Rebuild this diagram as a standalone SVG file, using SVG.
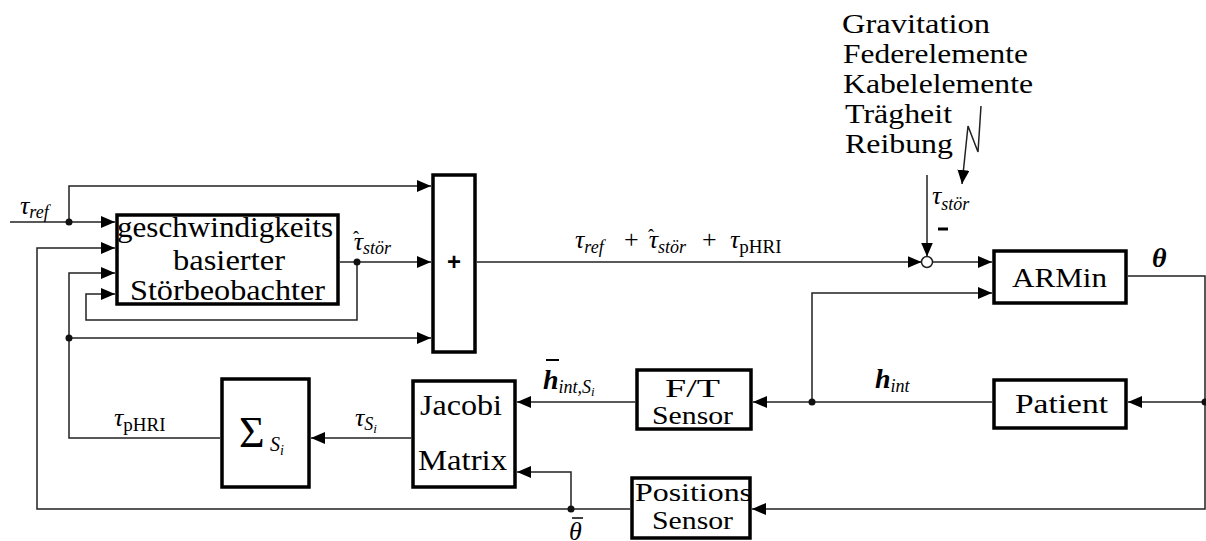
<svg xmlns="http://www.w3.org/2000/svg" width="1206" height="541" viewBox="0 0 1206 541">
<defs>
<style>
.box{fill:#fff;stroke:#000;stroke-width:3.5}
.ln{fill:none;stroke:#222;stroke-width:1.5}
.t{font-family:"Liberation Serif",serif;fill:#000}
.m{font-family:"Liberation Serif",serif;font-style:italic;fill:#000}
.b{font-family:"Liberation Serif",serif;font-style:italic;font-weight:bold;fill:#000}
.s{font-family:"Liberation Sans",sans-serif;font-weight:bold;fill:#000}
.dot{fill:#111}
</style>
<marker id="a" viewBox="0 0 14 12" refX="14" refY="6" markerWidth="14" markerHeight="12" markerUnits="userSpaceOnUse" orient="auto"><path d="M0,0L14,6L0,12z" fill="#000"/></marker>
</defs>
<rect width="1206" height="541" fill="#fff"/>

<g id="connectors">
<path class="ln" marker-end="url(#a)" d="M10,222H115"/>
<path class="ln" marker-end="url(#a)" d="M69,222V186H431"/>
<path class="ln" marker-end="url(#a)" d="M630,509H37V248H115"/>
<path class="ln" marker-end="url(#a)" d="M220,438H69V273H115"/>
<path class="ln" marker-end="url(#a)" d="M69,338H431"/>
<path class="ln" marker-end="url(#a)" d="M340,262H431"/>
<path class="ln" marker-end="url(#a)" d="M357,262V320H86V294H115"/>
<path class="ln" marker-end="url(#a)" d="M477,262H921.5"/>
<path class="ln" marker-end="url(#a)" d="M927,175V256.5"/>
<path class="ln" marker-end="url(#a)" d="M932.5,262H992"/>
<path class="ln" marker-end="url(#a)" d="M1128,276H1205V509H752"/>
<path class="ln" marker-end="url(#a)" d="M1205,402H1128"/>
<path class="ln" marker-end="url(#a)" d="M992,402H753"/>
<path class="ln" marker-end="url(#a)" d="M812,402V293H992"/>
<path class="ln" marker-end="url(#a)" d="M635,402H517"/>
<path class="ln" marker-end="url(#a)" d="M411,438H311"/>
<path class="ln" marker-end="url(#a)" d="M571,509V472H517"/>
<path class="ln" marker-end="url(#a)" d="M981,106L978,152L968,126L962,184"/>
<circle class="dot" cx="69" cy="222" r="3.5"/>
<circle class="dot" cx="357" cy="262" r="3.5"/>
<circle class="dot" cx="69" cy="338" r="3.5"/>
<circle class="dot" cx="812" cy="402" r="3.5"/>
<circle class="dot" cx="1205" cy="402" r="3.5"/>
<circle class="dot" cx="571" cy="509" r="3.5"/>
</g>

<g id="labels">
<text class="m" x="20" y="214" font-size="26">τ<tspan font-size="18" dy="4">ref</tspan></text>
<text class="m" x="353" y="250" font-size="26">τ<tspan class="t" font-style="normal" font-size="18" dx="-10" dy="-6">ˆ</tspan><tspan font-size="18" dx="4" dy="10">stör</tspan></text>
<text class="m" x="575" y="248" font-size="26">τ<tspan font-size="18" dy="5">ref</tspan></text>
<text class="t" x="624" y="248" font-size="26">+</text>
<text class="m" x="648" y="248" font-size="26">τ<tspan class="t" font-style="normal" font-size="18" dx="-10" dy="-6">ˆ</tspan><tspan font-size="18" dx="4" dy="11">stör</tspan></text>
<text class="t" x="702" y="248" font-size="26">+</text>
<text class="m" x="730" y="248" font-size="26">τ<tspan class="t" font-style="normal" font-size="19" dy="5">pHRI</tspan></text>
<text class="m" x="932" y="204" font-size="26">τ<tspan font-size="18" dy="6">stör</tspan></text>
<rect x="938" y="227.5" width="10" height="3" fill="#000"/>
<text class="b" x="1152" y="267" font-size="28">θ</text>
<text class="t" x="842" y="33" font-size="28" textLength="148" lengthAdjust="spacingAndGlyphs">Gravitation</text>
<text class="t" x="843" y="63" font-size="28" textLength="185" lengthAdjust="spacingAndGlyphs">Federelemente</text>
<text class="t" x="843" y="93" font-size="28" textLength="190" lengthAdjust="spacingAndGlyphs">Kabelelemente</text>
<text class="t" x="845" y="123" font-size="28" textLength="107" lengthAdjust="spacingAndGlyphs">Trägheit</text>
<text class="t" x="845" y="153" font-size="28" textLength="108" lengthAdjust="spacingAndGlyphs">Reibung</text>
<line x1="546" y1="360" x2="559" y2="360" stroke="#000" stroke-width="2"/>
<text class="b" x="543" y="389" font-size="28">h<tspan class="m" font-weight="normal" font-size="18" dy="4">int,S</tspan><tspan class="m" font-weight="normal" font-size="13" dy="3">i</tspan></text>
<text class="b" x="875" y="388" font-size="28">h<tspan class="m" font-weight="normal" font-size="18" dy="4">int</tspan></text>
<text class="m" x="114" y="426" font-size="26">τ<tspan class="t" font-style="normal" font-size="19" dy="5">pHRI</tspan></text>
<text class="m" x="355" y="426" font-size="26">τ<tspan font-size="18" dy="4">S</tspan><tspan font-size="13" dy="3">i</tspan></text>
<line x1="572" y1="518" x2="583" y2="518" stroke="#000" stroke-width="1.5"/>
<text class="m" x="569" y="540" font-size="26">θ</text>
</g>

<g id="observer">
<rect class="box" x="117" y="215" width="221" height="89"/>
<text class="t" x="117" y="237" font-size="30" textLength="216" lengthAdjust="spacingAndGlyphs">geschwindigkeits</text>
<text class="t" x="173" y="270" font-size="30" textLength="112" lengthAdjust="spacingAndGlyphs">basierter</text>
<text class="t" x="130" y="300" font-size="30" textLength="195" lengthAdjust="spacingAndGlyphs">Störbeobachter</text>
</g>
<g id="sum">
<rect class="box" x="433" y="175" width="42" height="177"/>
<text class="s" x="454" y="270" font-size="24" text-anchor="middle">+</text>
</g>
<g id="junction">
<circle cx="927" cy="262" r="5.5" fill="#fff" stroke="#222" stroke-width="1.5"/>
</g>
<g id="armin">
<rect class="box" x="994" y="251" width="132" height="52"/>
<text class="t" x="1012" y="287" font-size="28" textLength="95" lengthAdjust="spacingAndGlyphs">ARMin</text>
</g>
<g id="patient">
<rect class="box" x="994" y="380" width="132" height="48"/>
<text class="t" x="1015" y="413" font-size="28" textLength="93" lengthAdjust="spacingAndGlyphs">Patient</text>
</g>
<g id="ftsensor">
<rect class="box" x="637" y="370" width="114" height="59"/>
<text class="t" x="665" y="397" font-size="26" textLength="55" lengthAdjust="spacingAndGlyphs">F/T</text>
<text class="t" x="652" y="424" font-size="26" textLength="81" lengthAdjust="spacingAndGlyphs">Sensor</text>
</g>
<g id="jacobi">
<rect class="box" x="413" y="381" width="102" height="106"/>
<text class="t" x="420" y="415" font-size="29" textLength="82" lengthAdjust="spacingAndGlyphs">Jacobi</text>
<text class="t" x="418" y="470" font-size="29" textLength="89" lengthAdjust="spacingAndGlyphs">Matrix</text>
</g>
<g id="sigma">
<rect class="box" x="222" y="379" width="87" height="108"/>
<text class="t" x="239" y="447" font-size="44">Σ</text>
<text class="m" x="270" y="451" font-size="20">S<tspan font-size="14" dy="4">i</tspan></text>
</g>
<g id="positions">
<rect class="box" x="632" y="478" width="118" height="60"/>
<text class="t" x="635" y="501" font-size="25" textLength="117" lengthAdjust="spacingAndGlyphs">Positions</text>
<text class="t" x="652" y="529" font-size="25" textLength="81" lengthAdjust="spacingAndGlyphs">Sensor</text>
</g>
</svg>
